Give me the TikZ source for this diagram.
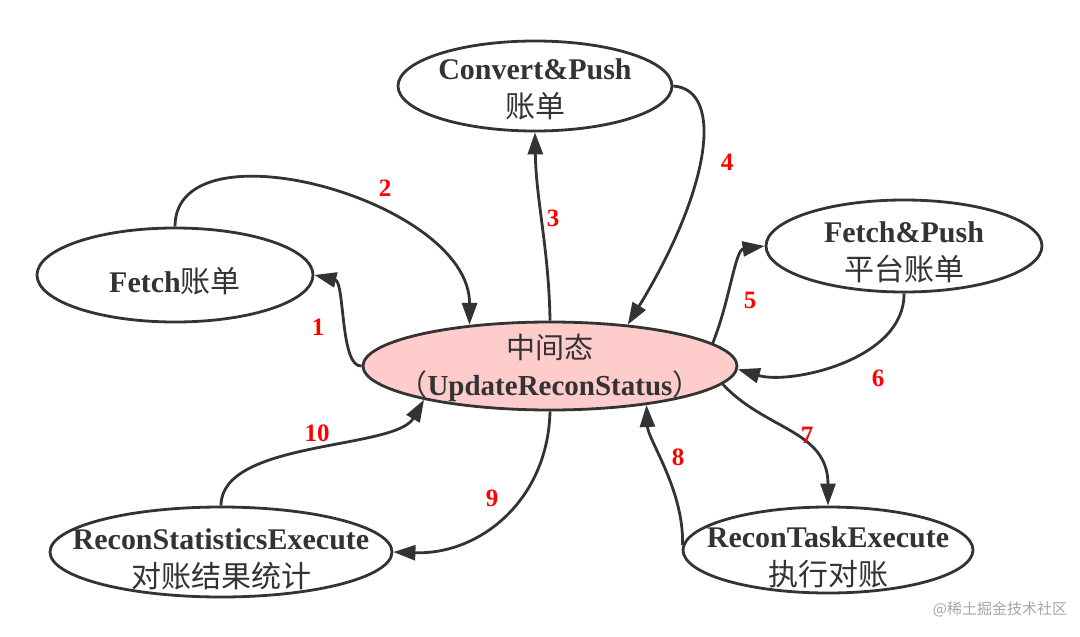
\documentclass[tikz,border=0pt]{standalone}
\usepackage{fontspec}
\setmainfont{Liberation Serif}
\newfontfamily\cjk{Noto Sans CJK SC}
\usetikzlibrary{shapes.geometric,arrows.meta}
\definecolor{ink}{HTML}{333333}
\definecolor{pinkfill}{HTML}{FFCCCC}
\begin{document}
\begin{tikzpicture}[x=1pt,y=-1pt,
  state/.style={draw=ink, line width=2.8pt, ellipse, inner sep=0pt},
  txt/.style={text=ink, align=center, font=\fontsize{30}{38}\selectfont, inner sep=0pt},
  edge/.style={draw=ink, line width=2.8pt, -{Triangle[length=22pt,width=15pt]}},
  num/.style={text=red, font=\bfseries\fontsize{25}{30}\selectfont, inner sep=0pt}]
\fill[white] (0,0) rectangle (1080,637);
\useasboundingbox (0,0) rectangle (1080,637);
% states
\node[state, minimum width=276pt, minimum height=94pt] (F) at (175,275) {};
\node[state, minimum width=274pt, minimum height=90pt] (V) at (535,86) {};
\node[state, minimum width=276pt, minimum height=92pt] (P) at (904,246) {};
\node[state, fill=pinkfill, minimum width=374pt, minimum height=88pt] (C) at (550,366) {};
\node[state, minimum width=342pt, minimum height=90pt] (S) at (221,552) {};
\node[state, minimum width=290pt, minimum height=86pt] (T) at (828,550) {};
% texts
\node[txt] (Ft) at (175,281) {\textbf{Fetch}{\cjk 账单}};
\node[txt] (Vt) at (535,89) {\textbf{Convert\&Push}\\{\cjk 账单}};
\node[txt] (Pt) at (904,252) {\textbf{Fetch\&Push}\\{\cjk 平台账单}};
\node[txt, font=\fontsize{29}{37}\selectfont] (Ct) at (550,368) {{\cjk 中间态}\\{\cjk （}\textbf{UpdateReconStatus}{\cjk ）}};
\node[txt] (St) at (221,559) {\textbf{ReconStatisticsExecute}\\{\cjk 对账结果统计}};
\node[txt] (Tt) at (828,557) {\textbf{ReconTaskExecute}\\{\cjk 执行对账}};
% edges
\draw[edge] (C.180) .. controls (340,368) and (345,282) .. (F.0);
\draw[edge] (F.90) .. controls (175,120) and (470,200) .. (C.153);
\draw[edge] (C.90) .. controls (549,250) and (536,200) .. (V.-90);
\draw[edge] (V.0) .. controls (725,90) and (710,190) .. (C.28);
\draw[edge] (C.8) .. controls (730,300) and (735,250) .. (P.180);
\draw[edge] (P.-90) .. controls (905,360) and (790,385) .. (C.-1);
\draw[edge] (C.-6.5) .. controls (765,430) and (828,430) .. (T.90);
\draw[edge] (T.178) .. controls (684,490) and (648,440) .. (C.-22);
\draw[edge] (C.-90) .. controls (548,500) and (480,555) .. (S.0);
\draw[edge] (S.90) .. controls (221,440) and (395,450) .. (C.195);
% labels
\node[num] (n1) at (318,327) {1};
\node[num] (n2) at (385,188) {2};
\node[num] (n3) at (553,218) {3};
\node[num] (n4) at (727,162) {4};
\node[num] (n5) at (750,300) {5};
\node[num] (n6) at (878,378) {6};
\node[num] (n7) at (807,435) {7};
\node[num] (n8) at (678,457) {8};
\node[num] (n9) at (492,498) {9};
\node[num] (n10) at (317,433) {10};
% watermark
\node[text=black!35, font=\cjk\fontsize{15}{18}\selectfont, inner sep=0pt] (wm) at (1000,609) {@稀土掘金技术社区};
\end{tikzpicture}
\end{document}
